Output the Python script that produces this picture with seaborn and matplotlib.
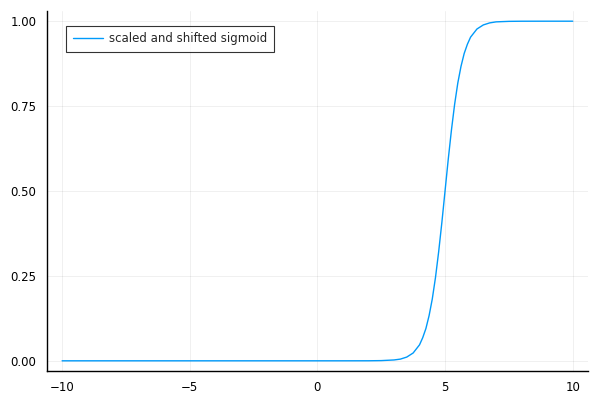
import pandas as pd
import matplotlib.pyplot as plt
import seaborn as sns

# values
x_vals = [-10, -8, -6, -4, -2, 0, 1, 2, 2.5, 3.0, 3.25, 3.5, 3.75, 4.0, 4.125, 4.25,
          4.375, 4.5, 4.625, 4.75, 4.875, 5.0, 5.125, 5.25, 5.375, 5.5, 5.625,
          5.75, 5.875, 6.0, 6.25, 6.5, 6.75, 7.0, 7.5, 8, 9, 10]
y_vals = [0, 0, 0, 0, 0, 0, 0, 0.0001, 0.0006, 0.0025, 0.005, 0.011, 0.023, 0.047,
          0.068, 0.095, 0.133, 0.182, 0.245, 0.321, 0.407, 0.5, 0.593, 0.679,
          0.755, 0.818, 0.867, 0.905, 0.932, 0.953, 0.977, 0.989, 0.995, 0.998,
          0.9995, 0.9999, 1.0, 1.0]
label = "scaled and shifted sigmoid"
x_ticks = [-10, -5, 0, 5, 10]
y_ticks = [0.0, 0.25, 0.5, 0.75, 1.0]

df = pd.DataFrame({"x": x_vals, "y": y_vals})

sns.set_style("white")
plt.rcParams["font.family"] = ["DejaVu Sans"]

fig = plt.figure(figsize=(6, 4), dpi=100)
ax = fig.add_axes([0.078, 0.0725, 0.902, 0.9])
sns.lineplot(data=df, x="x", y="y", color="#009AFA", linewidth=1, label=label, ax=ax)

ax.set_xlim(-10.6, 10.6)
ax.set_ylim(-0.03, 1.03)
ax.set_xticks(x_ticks)
ax.set_yticks(y_ticks)
ax.set_yticklabels([f"{v:.2f}" for v in y_ticks])
ax.set_xlabel("")
ax.set_ylabel("")
ax.grid(True, color="black", alpha=0.07, linewidth=0.6)
ax.tick_params(direction="out", length=4, width=0.8, labelsize=8.5, colors="black")
for side in ["top", "right"]:
    ax.spines[side].set_visible(False)
for side in ["left", "bottom"]:
    ax.spines[side].set_color("black")
    ax.spines[side].set_linewidth(1)

leg = ax.legend(loc="upper left", fontsize=8.5, frameon=True, fancybox=False,
                edgecolor="black", handlelength=2.6, handletextpad=0.5,
                borderpad=0.55, bbox_to_anchor=(0.025, 0.975))
leg.get_frame().set_linewidth(0.8)

plt.savefig("out.png")
plt.close()
